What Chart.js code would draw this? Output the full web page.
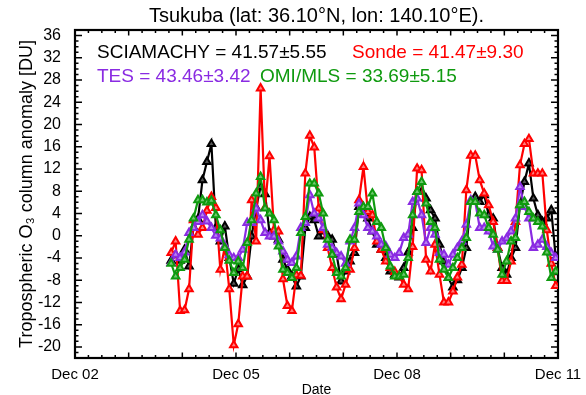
<!DOCTYPE html>
<html>
<head>
<meta charset="utf-8">
<title>Tsukuba tropospheric ozone anomaly</title>
<script src="https://cdn.jsdelivr.net/npm/chart.js@4.4.1/dist/chart.umd.min.js"></script>
<style>
    html, body { margin: 0; padding: 0; background: #fff; }
    #wrap { width: 586px; height: 395px; }
</style>
</head>
<body>
<div id="wrap"><canvas id="ozoneChart" width="586" height="395"></canvas></div>
<script>
// ========== Data (monthly anomalies, DU) ==========
// x axis is months after Dec 2002; first point is mid Sep 2004
const firstMonth = 21.5;

const xTickMonths = [0, 36, 72, 108];
const xTickLabels = ['Dec 02', 'Dec 05', 'Dec 08', 'Dec 11'];
const yTickValues = [-20, -16, -12, -8, -4, 0, 4, 8, 12, 16, 20, 24, 28, 32, 36];

const chartTitle = 'Tsukuba (lat: 36.10\u00B0N, lon: 140.10\u00B0E).';
const seriesNames = ['SCIAMACHY', 'Sonde', 'TES', 'OMI/MLS'];
const seriesStats = ['41.57\u00B15.55', '41.47\u00B19.30', '43.46\u00B13.42', '33.69\u00B15.15'];
const seriesColors = ['#000000', '#ff0000', '#8a2be2', '#0f9a0f'];
const seriesFills = ['#555555', '#ff8080', '#b784f0', '#70c870'];

const sciamachy = [
    -4.5, -3.5, -4.5, -2.5, -5.5, 1.5, 3.0, 10.0, 13.3, 16.5,
    1.4, -1.0, 1.7, -4.0, -8.6, -6.0, -8.9, -7.3, -0.1, 5.0,
    8.8, 7.5, 0.5, -0.1, -0.7, -4.3, -6.1, -7.3, -9.1, -7.3,
    1.4, 3.4, 2.8, -0.1, 0.8, 0.0, -0.7, -3.4, -8.2, -6.4,
    -4.6, -3.1, 5.2, 4.9, 3.1, 0.8, -1.6, -2.5, -4.0, -6.4,
    -7.0, -7.5, -5.8, -3.0, 1.4, 7.9, 7.9, 6.7, 4.6, 3.1,
    -1.6, -4.6, -7.6, -9.3, -8.0, -5.8, -2.2, 6.1, 7.0, 6.1,
    7.3, 3.7, 3.1, -2.2, -5.8, -7.0, -4.0, -2.2, 5.5, 9.7,
    13.0, 6.7, 3.7, 2.5, 3.1, 4.6, -4.0
];

const sonde = [
    -3.1, -1.0, -13.5, -13.4, -9.6, 2.8, 0.2, 1.4, 4.5, 7.0,
    5.0, -6.1, -2.0, -9.6, -19.7, -15.9, -7.3, -7.3, 6.4, -1.0,
    26.5, 5.0, 14.3, 1.0, 0.8, -7.8, -12.6, -13.5, -7.1, -7.2,
    11.2, 18.0, 15.9, 4.9, 1.0, -2.2, -5.8, -9.3, -11.4, -8.8,
    -6.1, -2.2, 6.4, 12.4, 4.3, 3.7, -1.0, -2.5, -4.6, -5.8,
    -6.5, -7.3, -8.8, -9.6, -2.0, 12.1, 11.8, -4.3, -6.4, -1.6,
    -7.0, -12.0, -12.0, -10.0, -7.5, -5.2, 8.2, 14.4, 14.4, 10.0,
    7.6, 5.5, 2.5, -2.2, -8.1, -8.1, -4.6, 2.5, 12.7, 16.5,
    17.4, 11.2, 11.2, 11.2, 1.0, -5.0, -9.0
];

const tes = [
    -4.9, -3.4, -4.0, -3.0, 0.5, 1.4, 2.5, 3.7, 2.6, 1.4,
    0.0, -0.5, -1.9, -3.5, -4.0, -4.0, -2.5, 2.3, 2.3, 4.9,
    2.8, 0.5, -0.1, -0.1, -1.0, -2.8, -4.3, -4.9, -3.7, 1.4,
    2.3, 7.3, 4.0, 3.1, 1.4, -1.6, -2.2, -3.1, -3.7, -5.0,
    -1.0, 1.4, 5.8, 3.7, 1.4, 0.8, -0.1, -1.6, -1.9, -3.4,
    -4.0, -3.1, -0.4, 0.2, 6.1, 6.7, 3.7, -1.3, 1.4, 0.2,
    -3.1, -3.4, -5.2, -3.4, -2.2, -1.0, 2.0, 6.4, 6.1, 1.4,
    1.4, 0.8, -1.9, -2.5, -1.0, -0.5, 0.8, 3.1, 8.8, 5.2,
    3.1, -2.2, -1.6, -0.7, -2.0, -3.1, -4.0
];

const omiMls = [
    -5.0, -7.3, -5.8, -4.3, -0.7, 3.1, 6.4, 6.4, 6.0, 6.3,
    3.7, 1.0, -2.2, -4.5, -6.7, -4.6, -5.8, -1.3, 2.8, 7.6,
    10.6, 4.9, 4.0, 2.8, -1.9, -6.1, -6.7, -7.6, -5.8, 0.5,
    3.4, 9.4, 9.4, 7.6, 4.0, -0.7, -3.4, -6.7, -7.3, -5.8,
    -0.7, -0.7, 4.3, 5.2, 5.2, 7.6, 2.5, 1.4, -2.2, -5.5,
    -7.3, -7.3, -7.0, -4.0, 3.7, 7.9, 9.7, 5.8, 2.5, 1.4,
    -4.3, -6.1, -7.6, -5.8, -4.0, -2.2, -0.4, 6.1, 6.1, 4.0,
    3.7, 1.4, 0.2, -2.5, -7.0, -4.6, -1.0, -0.4, 5.5, 6.1,
    4.3, 3.1, 2.5, 1.7, -3.0, -7.6, -6.4
];

const FONT = "'Liberation Sans', Arial, Helvetica, sans-serif";

// pair each value with its month
function toPoints(values) {
    return values.map((v, i) => ({ x: firstMonth + i, y: v }));
}

function makeDataset(idx, values) {
    return {
        label: seriesNames[idx],
        data: toPoints(values),
        borderColor: seriesColors[idx],
        backgroundColor: seriesFills[idx],
        borderWidth: 2.2,
        pointStyle: 'triangle',
        pointRadius: 4.3,
        pointBorderWidth: 2,
        pointBorderColor: seriesColors[idx],
        pointBackgroundColor: seriesFills[idx],
        tension: 0,
        order: 4 - idx
    };
}

// ========== Frame, title and legend text (IDL style) ==========
const framePlugin = {
    id: 'idlFrame',
    beforeDatasetsDraw(chart) {
        const { ctx, chartArea: a, scales: { x, y } } = chart;
        ctx.save();
        ctx.strokeStyle = '#000';
        ctx.lineWidth = 1.5;
        ctx.beginPath();
        for (let m = 0; m <= 108; m += 3) {
            const px = x.getPixelForValue(m);
            const len = m % 12 === 0 ? 5.5 : 3;
            ctx.moveTo(px, a.bottom); ctx.lineTo(px, a.bottom - len);
            ctx.moveTo(px, a.top); ctx.lineTo(px, a.top + len);
        }
        for (let v = -22; v <= 37; v++) {
            const py = y.getPixelForValue(v);
            const len = v % 4 === 0 ? 7 : 3.5;
            ctx.moveTo(a.left, py); ctx.lineTo(a.left + len, py);
            ctx.moveTo(a.right, py); ctx.lineTo(a.right - len, py);
        }
        ctx.stroke();
        ctx.lineWidth = 2.2;
        ctx.strokeRect(a.left, a.top, a.right - a.left, a.bottom - a.top);

        // title centred over the plot box
        ctx.fillStyle = '#000';
        ctx.font = '20px ' + FONT;
        ctx.textAlign = 'center';
        ctx.textBaseline = 'middle';
        ctx.fillText(chartTitle, (a.left + a.right) / 2, 16);

        // legend text inside the plot
        ctx.font = '19px ' + FONT;
        ctx.textAlign = 'left';
        const spots = [[a.left + 22, a.top + 23], [a.left + 277, a.top + 23],
                       [a.left + 22, a.top + 46.5], [a.left + 185, a.top + 46.5]];
        seriesNames.forEach((name, i) => {
            ctx.fillStyle = seriesColors[i];
            ctx.fillText(name + ' = ' + seriesStats[i], spots[i][0], spots[i][1]);
        });
        ctx.restore();
    }
};

// ========== Chart ==========
const ctx = document.getElementById('ozoneChart');
new Chart(ctx, {
    type: 'line',
    data: {
        datasets: [
            makeDataset(0, sciamachy),
            makeDataset(1, sonde),
            makeDataset(2, tes),
            makeDataset(3, omiMls)
        ]
    },
    options: {
        responsive: false,
        animation: false,
        devicePixelRatio: 1,
        layout: { padding: { left: 0, right: 28, top: 30, bottom: 0 } },
        plugins: {
            legend: { display: false },
            tooltip: { enabled: false },
            title: { display: false }
        },
        scales: {
            x: {
                type: 'linear',
                min: 0,
                max: 108,
                grid: { display: false },
                border: { display: false },
                afterBuildTicks: (scale) => {
                    scale.ticks = xTickMonths.map(v => ({ value: v }));
                },
                afterFit: (scale) => { scale.height = 37; },
                ticks: {
                    autoSkip: false,
                    maxRotation: 0,
                    padding: 0,
                    color: '#000',
                    font: { family: FONT, size: 15 },
                    callback: (v) => xTickLabels[xTickMonths.indexOf(v)]
                },
                title: {
                    display: true,
                    text: 'Date',
                    color: '#000',
                    font: { family: FONT, size: 14 },
                    padding: { top: 0, bottom: -4 }
                }
            },
            y: {
                min: -22,
                max: 37,
                grid: { display: false },
                border: { display: false },
                afterBuildTicks: (scale) => {
                    scale.ticks = yTickValues.map(v => ({ value: v }));
                },
                afterFit: (scale) => { scale.width = 75; },
                ticks: {
                    autoSkip: false,
                    padding: 6,
                    color: '#000',
                    font: { family: FONT, size: 16 }
                },
                title: {
                    display: true,
                    text: 'Tropospheric O\u2083 column anomaly [DU]',
                    color: '#000',
                    font: { family: FONT, size: 18 },
                    padding: { top: 16, bottom: 0 }
                }
            }
        }
    },
    plugins: [framePlugin]
});
</script>
</body>
</html>
